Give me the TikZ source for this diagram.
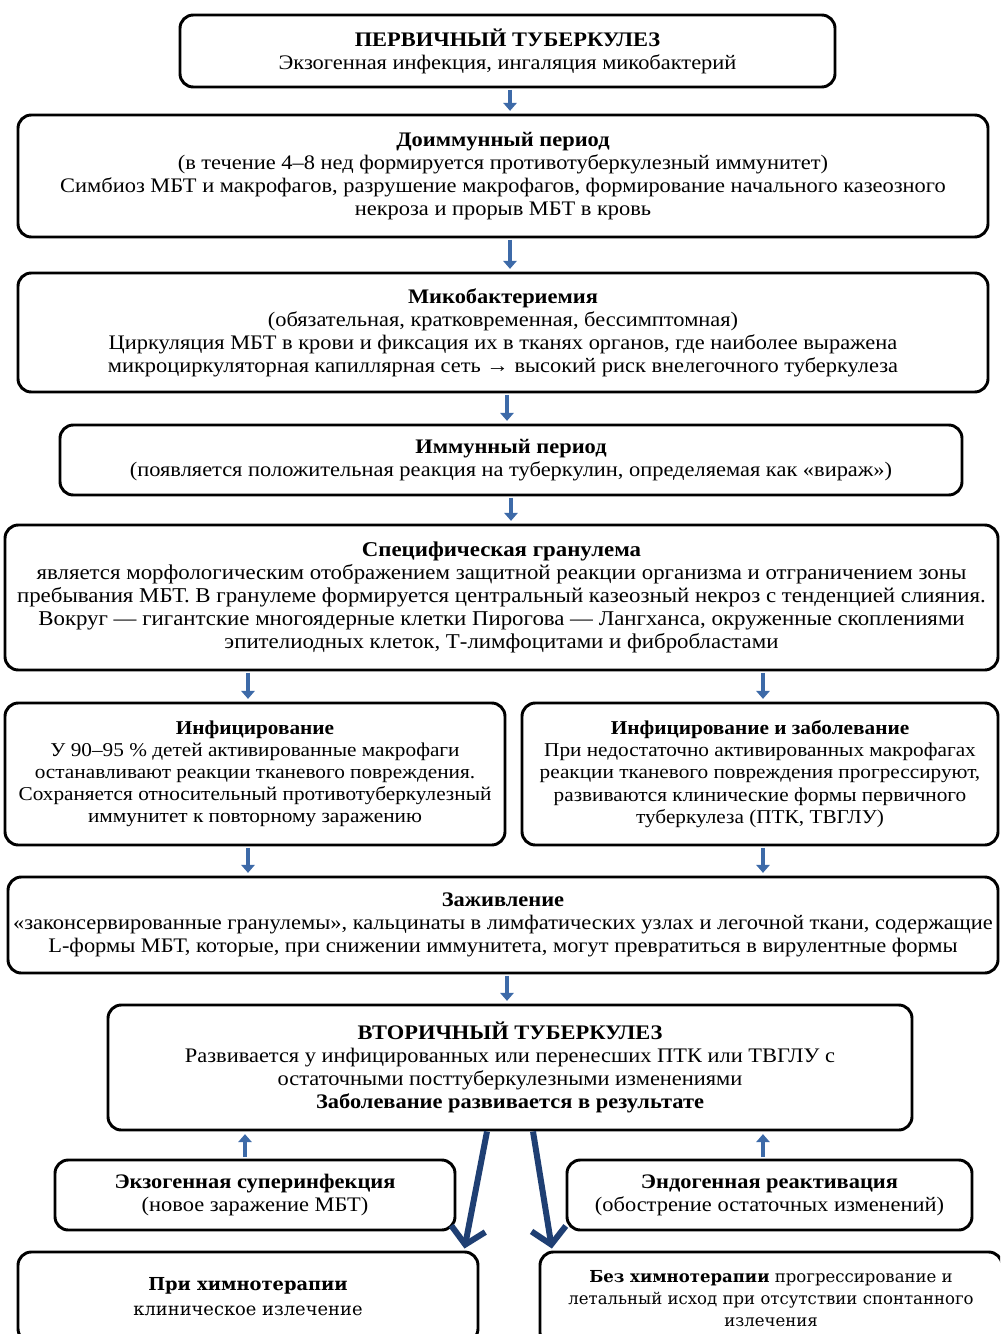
\documentclass[tikz,border=0pt]{standalone}
\usepackage{fontspec}
\setmainfont{Liberation Serif}[FakeStretch=1.085]
\newfontfamily\widefont{DejaVu Serif}
\usetikzlibrary{arrows.meta}
\definecolor{arrblue}{HTML}{3D6AA8}
\definecolor{navyarr}{HTML}{1F3F73}
\begin{document}
\begin{tikzpicture}[x=0.75pt,y=-0.75pt,
  box/.style={draw=black,line width=2.2pt,rounded corners=10pt,fill=white,align=center,inner sep=1pt,
    font=\fontsize{15.5}{17.25}\selectfont},
  wbox/.style={box,font=\widefont\fontsize{12.4}{16.5}\selectfont},
  flow/.style={draw=arrblue,line width=3.5pt,-{Triangle[width=10pt,length=6pt]},shorten >=2pt,shorten <=1pt},
  bigarr/.style={draw=navyarr,line width=4.5pt,-{Straight Barb[length=12pt,width=26pt]}}]
\clip (0,0) rectangle (1000,1334);
\fill[white] (0,0) rectangle (1000,1334);

\node[box,minimum width=491.25pt,minimum height=54pt] (b1) at (507.5,51)
  {\textbf{ПЕРВИЧНЫЙ ТУБЕРКУЛЕЗ}\\
   Экзогенная инфекция, ингаляция микобактерий};

\node[box,minimum width=727.5pt,minimum height=91.5pt] (b2) at (503,176)
  {\textbf{Доиммунный период}\\
   (в течение  4–8 нед формируется противотуберкулезный  иммунитет)\\
   Симбиоз МБТ и макрофагов, разрушение макрофагов, формирование начального казеозного\\
   некроза и прорыв МБТ в кровь};

\node[box,minimum width=727.5pt,minimum height=89.25pt] (b3) at (503,332.5)
  {\textbf{Микобактериемия}\\
   (обязательная, кратковременная, бессимптомная)\\
   Циркуляция МБТ в крови и фиксация их в тканях органов, где наиболее выражена\\
   микроциркуляторная капиллярная сеть → высокий риск внелегочного туберкулеза};

\node[box,minimum width=676.5pt,minimum height=52.5pt] (b4) at (511,460)
  {\textbf{Иммунный период}\\
   (появляется положительная реакция на туберкулин, определяемая как «вираж»)};

\node[box,minimum width=744.75pt,minimum height=108.75pt,font=\fontsize{15.8}{17.4}\selectfont] (b5) at (501.5,597.5)
  {\textbf{Специфическая гранулема}\\
   является морфологическим отображением защитной реакции организма и отграничением зоны\\
   пребывания МБТ. В гранулеме формируется центральный казеозный некроз с тенденцией слияния.\\
   Вокруг — гигантские многоядерные клетки Пирогова — Лангханса, окруженные скоплениями\\
   эпителиодных клеток, Т-лимфоцитами и фибробластами};

\node[box,minimum width=375pt,minimum height=106.5pt,font=\fontsize{14.7}{16.6}\selectfont] (b6a) at (255,774)
  {\textbf{Инфицирование}\\
   У 90–95 \% детей активированные макрофаги\\
   останавливают реакции тканевого повреждения.\\
   Сохраняется относительный противотуберкулезный\\
   иммунитет к повторному заражению};

\node[box,minimum width=357pt,minimum height=106.5pt,font=\fontsize{14.7}{16.6}\selectfont] (b6b) at (760,774)
  {\textbf{Инфицирование и заболевание}\\
   При недостаточно активированных макрофагах\\
   реакции тканевого повреждения прогрессируют,\\
   развиваются клинические формы первичного\\
   туберкулеза (ПТК, ТВГЛУ)};

\node[box,minimum width=742.5pt,minimum height=72pt] (b7) at (503,925)
  {\textbf{Заживление}\\
   «законсервированные гранулемы», кальцинаты в лимфатических узлах и легочной ткани, содержащие\\
   L-формы МБТ, которые, при снижении иммунитета, могут превратиться в вирулентные формы};

\node[box,minimum width=603pt,minimum height=93.75pt] (b8) at (510,1067.5)
  {\textbf{ВТОРИЧНЫЙ ТУБЕРКУЛЕЗ}\\
   Развивается у инфицированных или перенесших ПТК или ТВГЛУ с\\
   остаточными посттуберкулезными изменениями\\
   \textbf{Заболевание развивается в результате}};

\node[box,minimum width=300pt,minimum height=52.5pt] (b9a) at (255,1195)
  {\textbf{Экзогенная суперинфекция}\\(новое заражение МБТ)};

\node[box,minimum width=303.75pt,minimum height=52.5pt] (b9b) at (769.5,1195)
  {\textbf{Эндогенная реактивация}\\(обострение остаточных изменений)};

\node[wbox,minimum width=345pt,minimum height=67.5pt,font=\widefont\fontsize{13.4}{18.75}\selectfont] (b10a) at (248,1297)
  {\textbf{При химнотерапии}\\клиническое излечение};

\node[wbox,minimum width=346.5pt,minimum height=70.5pt] (b10b) at (771,1299)
  {\textbf{Без химнотерапии} прогрессирование и\\летальный исход при отсутствии спонтанного\\излечения};

% connectors
\draw[flow] ([xshift=1.9pt]b1.south) -- ([xshift=1.9pt]b1.south |- b2.north);
\draw[flow] ([xshift=5.25pt]b2.south) -- ([xshift=5.25pt]b2.south |- b3.north);
\draw[flow] ([xshift=3pt]b3.south) -- ([xshift=3pt]b3.south |- b4.north);
\draw[flow] (b4.south) -- (b4.south |- b5.north);
\draw[flow] ([xshift=-5.25pt]b5.south -| b6a.north) -- ([xshift=-5.25pt]b6a.north);
\draw[flow] ([xshift=2.25pt]b5.south -| b6b.north) -- ([xshift=2.25pt]b6b.north);
\draw[flow] ([xshift=-5.25pt]b6a.south) -- ([xshift=-5.25pt]b6a.south |- b7.north);
\draw[flow] ([xshift=2.25pt]b6b.south) -- ([xshift=2.25pt]b6b.south |- b7.north);
\draw[flow] ([xshift=-2.25pt]b7.south -| b8.north) -- ([xshift=-2.25pt]b8.north);
\draw[flow] ([xshift=-7.5pt]b9a.north) -- ([xshift=-7.5pt]b9a.north |- b8.south);
\draw[flow] ([xshift=-4.9pt]b9b.north) -- ([xshift=-4.9pt]b9b.north |- b8.south);
\draw[bigarr] ([xshift=-17.25pt]b8.south) -- ([xshift=-11.25pt,yshift=1.5pt]b10a.north east);
\draw[bigarr] ([xshift=17.25pt]b8.south) -- ([xshift=10pt,yshift=1.5pt]b10b.north west);
\end{tikzpicture}
\end{document}
